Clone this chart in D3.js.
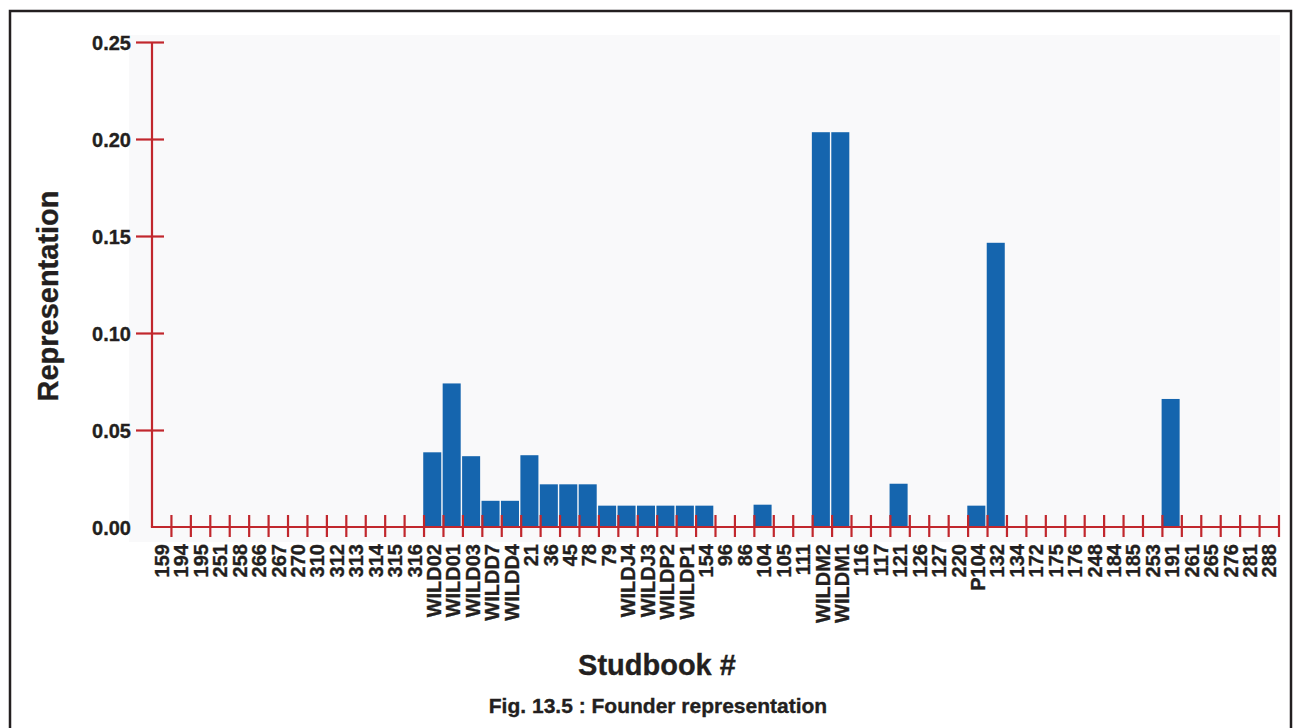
<!DOCTYPE html>
<html>
<head>
<meta charset="utf-8">
<script src="https://cdn.jsdelivr.net/npm/d3@7"></script>
<style>
  html, body { margin: 0; padding: 0; background: #ffffff; }
  svg { display: block; }
  text { font-family: "Liberation Sans", Arial, Helvetica, sans-serif; font-weight: bold; fill: #231f20; stroke: #231f20; stroke-width: 0.35px; }
</style>
</head>
<body>
<svg id="chart" width="1297" height="728"></svg>
<script>
// Founder studbook numbers, in the order they appear along the x axis
const studbook = [
  "159", "194", "195", "251", "258", "266", "267", "270", "310", "312", "313", "314", "315", "316",
  "WILD02", "WILD01", "WILD03", "WILDD7", "WILDD4", "21", "36", "45", "78", "79",
  "WILDJ4", "WILDJ3", "WILDP2", "WILDP1", "154", "96", "86", "104", "105", "111",
  "WILDM2", "WILDM1", "116", "117", "121", "126", "127", "220", "P104", "132",
  "134", "172", "175", "176", "248", "184", "185", "253", "191", "261", "265", "276", "281", "288"
];

// Founder representation for each studbook number
const representation = [
  0, 0, 0, 0, 0, 0, 0, 0, 0, 0, 0, 0, 0, 0,
  0.0385, 0.074, 0.0365, 0.0135, 0.0135, 0.037, 0.022, 0.022, 0.022, 0.011,
  0.011, 0.011, 0.011, 0.011, 0.011, 0, 0, 0.0115, 0, 0,
  0.2035, 0.2035, 0, 0, 0.0223, 0, 0, 0, 0.011, 0.1465,
  0, 0, 0, 0, 0, 0, 0, 0, 0.066, 0, 0, 0, 0, 0
];

const yTicks = [0, 0.05, 0.10, 0.15, 0.20, 0.25];

const data = studbook.map((id, i) => ({ id, value: representation[i] }));

const svg = d3.select("#chart");
const axisColor = "#c1272d";
const barColor = "#1565ae";

const plotLeft = 152, plotRight = 1279, plotTop = 42, plotBase = 527;

const x = d3.scaleBand().domain(studbook).range([plotLeft, plotRight]).padding(0);
const y = d3.scaleLinear().domain([0, 0.25]).range([plotBase, plotTop]);

// outer frame
svg.append("rect")
  .attr("x", 10).attr("y", 11).attr("width", 1281).attr("height", 730)
  .attr("fill", "none").attr("stroke", "#231f20").attr("stroke-width", 2.5);

// plot background
svg.append("rect")
  .attr("x", 129).attr("y", 35).attr("width", plotRight + 1 - 129).attr("height", 542 - 35)
  .attr("fill", "#f9f9fa");

// bars
svg.append("g").selectAll("rect")
  .data(data.filter(d => d.value > 0))
  .join("rect")
  .attr("x", d => x(d.id) - 0.8)
  .attr("y", d => y(d.value))
  .attr("width", x.bandwidth() - 1.4)
  .attr("height", d => y(0) - y(d.value))
  .attr("fill", barColor);

// y axis
const yAxis = svg.append("g")
  .attr("transform", `translate(${plotLeft},0)`)
  .call(d3.axisLeft(y).tickValues(yTicks).tickFormat(d3.format(".2f")).tickSize(16).tickPadding(5));
yAxis.select(".domain").remove();
yAxis.selectAll(".tick line")
  .attr("x1", 12).attr("x2", -16)
  .attr("stroke", axisColor).attr("stroke-width", 2.2)
  .filter(d => d === 0).remove();
yAxis.selectAll(".tick text")
  .attr("font-size", 20).attr("fill", "#231f20")
  .attr("font-family", "Liberation Sans, Arial, sans-serif").attr("font-weight", "bold")
  .attr("dy", "0.36em");

svg.append("line")
  .attr("x1", plotLeft).attr("x2", plotLeft).attr("y1", y(0.25)).attr("y2", plotBase)
  .attr("stroke", axisColor).attr("stroke-width", 2.2);

// x axis baseline and category boundary ticks
svg.append("line")
  .attr("x1", plotLeft - 1.1).attr("x2", plotRight).attr("y1", plotBase).attr("y2", plotBase)
  .attr("stroke", axisColor).attr("stroke-width", 2.2);

svg.append("g").selectAll("line")
  .data(studbook)
  .join("line")
  .attr("x1", d => x(d) + x.bandwidth())
  .attr("x2", d => x(d) + x.bandwidth())
  .attr("y1", plotBase - 12).attr("y2", plotBase + 10)
  .attr("stroke", axisColor).attr("stroke-width", 2.2);

// x tick labels, rotated
const xAxis = svg.append("g")
  .attr("transform", `translate(0,${plotBase})`)
  .call(d3.axisBottom(x).tickSize(0));
xAxis.select(".domain").remove();
xAxis.selectAll(".tick text")
  .attr("font-size", 20).attr("fill", "#231f20")
  .attr("font-family", "Liberation Sans, Arial, sans-serif").attr("font-weight", "bold")
  .attr("transform", "rotate(-90)")
  .attr("text-anchor", "end")
  .attr("x", -17).attr("y", 0).attr("dy", "0.36em");

// axis titles
svg.append("text")
  .attr("transform", "translate(58,296) rotate(-90)")
  .attr("text-anchor", "middle")
  .attr("font-size", 29)
  .text("Representation");

svg.append("text")
  .attr("x", 657).attr("y", 675)
  .attr("text-anchor", "middle")
  .attr("font-size", 29)
  .text("Studbook #");

svg.append("text")
  .attr("x", 658).attr("y", 713)
  .attr("text-anchor", "middle")
  .attr("font-size", 21)
  .text("Fig. 13.5 : Founder representation");
</script>
</body>
</html>
